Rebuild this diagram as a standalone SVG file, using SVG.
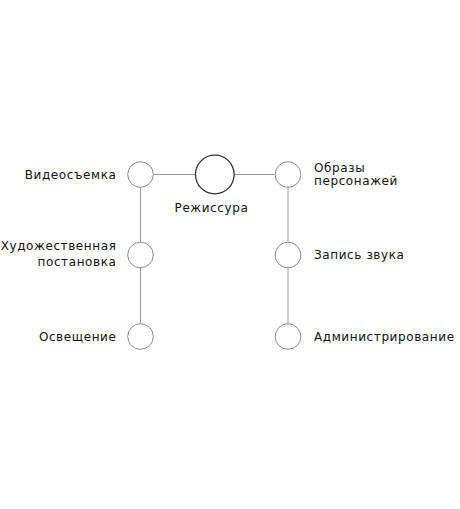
<svg xmlns="http://www.w3.org/2000/svg" width="460" height="509" viewBox="0 0 460 509">
<style>
.n{fill:#fff;stroke:#8a8a8a;stroke-width:1}
.c{fill:#fff;stroke:#333;stroke-width:1.3}
.e{stroke:#9a9a9a;stroke-width:1;fill:none}
text{font-family:"DejaVu Sans","Liberation Sans",sans-serif;font-size:12px;fill:#111;letter-spacing:0.6px}
.r{text-anchor:end}
.m{text-anchor:middle}
</style>
<rect width="460" height="509" fill="#fff"/>
<g id="connectors">
<line class="e" x1="153.5" y1="174.5" x2="195" y2="174.5"/>
<line class="e" x1="234.5" y1="174.5" x2="275" y2="174.5"/>
<line class="e" x1="140.5" y1="187.5" x2="140.5" y2="242"/>
<line class="e" x1="140.5" y1="268" x2="140.5" y2="323.5"/>
<line class="e" x1="288" y1="187.5" x2="288" y2="242"/>
<line class="e" x1="288" y1="268" x2="288" y2="323.5"/>
</g>
<g id="rezhissura"><circle class="c" cx="214.8" cy="174.5" r="19.3"/><text class="m" x="211.5" y="211.5">Режиссура</text></g>
<g id="videosemka"><circle class="n" cx="140.5" cy="174.5" r="12.8"/><text class="r" x="116.5" y="179">Видеосъемка</text></g>
<g id="khud"><circle class="n" cx="140.5" cy="255" r="12.8"/><text class="r" x="116.5" y="250">Художественная</text><text class="r" x="116.5" y="266">постановка</text></g>
<g id="osveshchenie"><circle class="n" cx="140.5" cy="336.5" r="12.8"/><text class="r" x="116.5" y="340.5">Освещение</text></g>
<g id="obrazy"><circle class="n" cx="288" cy="174.5" r="12.8"/><text x="314" y="172">Образы</text><text x="314" y="185">персонажей</text></g>
<g id="zapis"><circle class="n" cx="288" cy="255" r="12.8"/><text x="314" y="258.5">Запись звука</text></g>
<g id="admin"><circle class="n" cx="288" cy="336.5" r="12.8"/><text x="314" y="340.5">Администрирование</text></g>
</svg>
